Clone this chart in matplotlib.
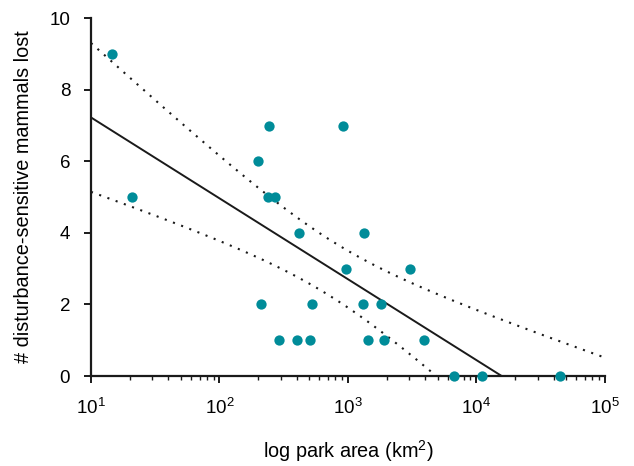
import numpy as np
import matplotlib
matplotlib.use("Agg")
import matplotlib.pyplot as plt
from matplotlib.ticker import LogLocator, FixedLocator, NullFormatter

plt.rcParams["font.family"] = ["Liberation Sans", "DejaVu Sans"]
plt.rcParams["mathtext.default"] = "regular"

# park area (km2) and number of disturbance-sensitive mammals lost
park_area = [14.6, 21, 198, 241, 238, 273, 413, 210, 290, 403, 509, 527,
             914, 960, 1340, 1300, 1440, 1807, 1897, 3020, 3890,
             6720, 11100, 44900]
mammals_lost = [9, 5, 6, 7, 5, 5, 4, 2, 1, 1, 1, 2,
                7, 3, 4, 2, 1, 2, 1, 3, 1,
                0, 0, 0]
x_ticks = [1e1, 1e2, 1e3, 1e4, 1e5]
x_tick_labels = ["10$^1$", "10$^2$", "10$^3$", "10$^4$", "10$^5$"]
y_ticks = [0, 2, 4, 6, 8, 10]

teal = "#008c99"

# least squares fit on log10(area) with 95% confidence band of the mean
lx = np.log10(park_area)
y = np.array(mammals_lost, dtype=float)
n = len(lx)
slope, intercept = np.polyfit(lx, y, 1)
resid = y - (slope * lx + intercept)
s = np.sqrt(np.sum(resid ** 2) / (n - 2))
sxx = np.sum((lx - lx.mean()) ** 2)
t_crit = 2.074  # t(0.975, 22)

grid = np.linspace(1, 5, 300)
fit = slope * grid + intercept
half = t_crit * s * np.sqrt(1 / n + (grid - lx.mean()) ** 2 / sxx)

fig = plt.figure(figsize=(6.34, 4.66), dpi=100)
ax = fig.add_axes([0.1435, 0.193, 0.8105, 0.768])

ax.plot(10 ** grid, fit, color="#1a1a1a", lw=1.4)
ax.plot(10 ** grid, fit + half, color="#1a1a1a", lw=1.5, ls=(0, (1, 3.2)))
ax.plot(10 ** grid, fit - half, color="#1a1a1a", lw=1.5, ls=(0, (1, 3.2)))
ax.scatter(park_area, mammals_lost, s=55, color=teal, zorder=5,
           clip_on=False, linewidths=0)

ax.set_xscale("log")
ax.set_xlim(10, 1e5)
ax.set_ylim(0, 10)

ax.xaxis.set_major_locator(FixedLocator(x_ticks))
ax.set_xticklabels(x_tick_labels)
ax.xaxis.set_minor_locator(LogLocator(base=10, subs=np.arange(2, 10)))
ax.xaxis.set_minor_formatter(NullFormatter())
ax.set_yticks(y_ticks)

for side in ["top", "right"]:
    ax.spines[side].set_visible(False)
for side in ["left", "bottom"]:
    ax.spines[side].set_linewidth(1.6)
    ax.spines[side].set_color("#1a1a1a")

ax.tick_params(axis="both", which="major", direction="out", length=5,
               width=1.4, color="#1a1a1a", labelsize=13.5)
ax.tick_params(axis="x", which="minor", direction="out", length=3,
               width=1.0, color="#1a1a1a")
ax.tick_params(axis="x", which="major", pad=11)
ax.tick_params(axis="y", pad=10)

ax.set_xlabel("log park area (km$^2$)", fontsize=14.3, labelpad=14)
ax.set_ylabel("# disturbance-sensitive mammals lost", fontsize=14.3,
              labelpad=12)

fig.savefig("out.png", dpi=100)
